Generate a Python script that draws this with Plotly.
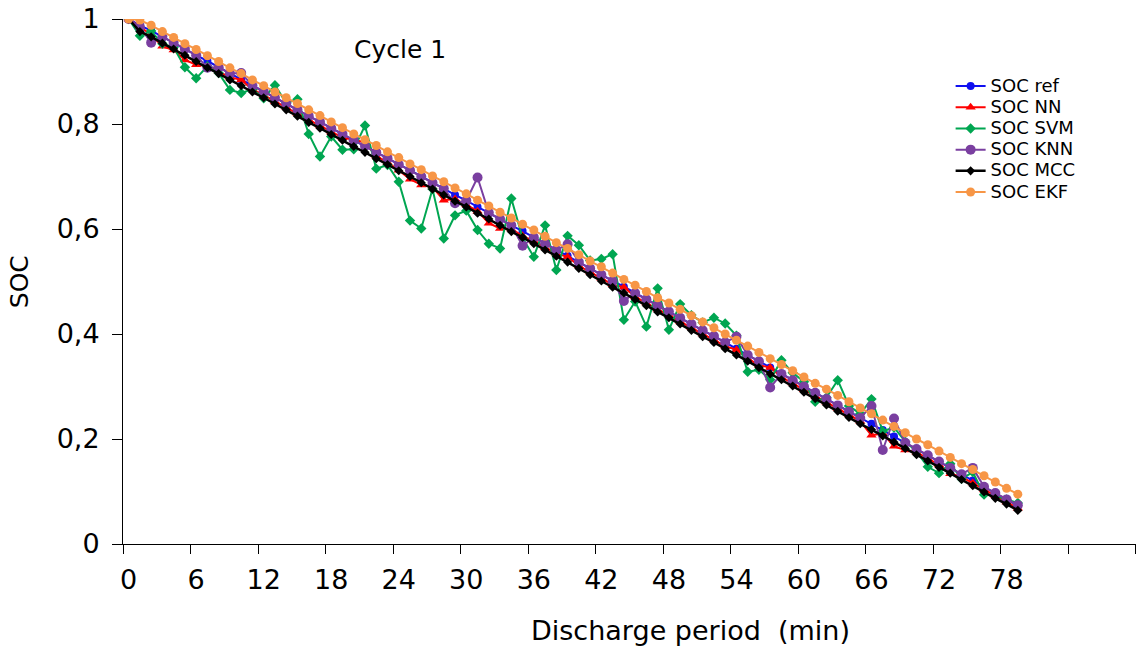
import plotly.graph_objects as go

minutes = list(range(80))

soc_ref = [1.000, 0.988, 0.978, 0.966, 0.955, 0.943, 0.931, 0.920, 0.908, 0.896,
           0.885, 0.873, 0.862, 0.850, 0.839, 0.827, 0.815, 0.804, 0.792, 0.781,
           0.769, 0.758, 0.746, 0.735, 0.723, 0.712, 0.700, 0.688, 0.677, 0.665,
           0.654, 0.642, 0.631, 0.619, 0.607, 0.596, 0.584, 0.572, 0.560, 0.549,
           0.537, 0.525, 0.513, 0.501, 0.490, 0.478, 0.466, 0.454, 0.443, 0.431,
           0.419, 0.407, 0.396, 0.384, 0.372, 0.360, 0.348, 0.336, 0.324, 0.312,
           0.300, 0.288, 0.276, 0.264, 0.252, 0.240, 0.229, 0.217, 0.205, 0.193,
           0.181, 0.169, 0.157, 0.145, 0.133, 0.121, 0.109, 0.097, 0.085, 0.073]

soc_nn = [1.000, 0.985, 0.970, 0.948, 0.941, 0.922, 0.913, 0.911, 0.900, 0.889,
          0.884, 0.866, 0.855, 0.843, 0.832, 0.820, 0.808, 0.797, 0.785, 0.774,
          0.770, 0.765, 0.739, 0.727, 0.712, 0.695, 0.684, 0.680, 0.655, 0.657,
          0.646, 0.634, 0.611, 0.601, 0.600, 0.587, 0.577, 0.565, 0.553, 0.547,
          0.530, 0.518, 0.506, 0.494, 0.489, 0.471, 0.459, 0.447, 0.436, 0.424,
          0.412, 0.400, 0.389, 0.377, 0.370, 0.353, 0.341, 0.336, 0.318, 0.306,
          0.294, 0.282, 0.270, 0.258, 0.246, 0.234, 0.207, 0.211, 0.186, 0.179,
          0.175, 0.163, 0.151, 0.134, 0.128, 0.116, 0.104, 0.092, 0.080, 0.068]

soc_svm = [1.000, 0.968, 0.977, 0.953, 0.946, 0.908, 0.887, 0.910, 0.897, 0.865,
           0.859, 0.866, 0.849, 0.874, 0.840, 0.847, 0.781, 0.738, 0.776, 0.751,
           0.752, 0.797, 0.715, 0.722, 0.690, 0.616, 0.601, 0.676, 0.582, 0.626,
           0.635, 0.598, 0.572, 0.563, 0.658, 0.583, 0.547, 0.607, 0.522, 0.587,
           0.569, 0.540, 0.543, 0.552, 0.427, 0.462, 0.414, 0.487, 0.408, 0.457,
           0.436, 0.422, 0.431, 0.420, 0.397, 0.328, 0.332, 0.313, 0.350, 0.326,
           0.309, 0.271, 0.279, 0.312, 0.263, 0.248, 0.276, 0.215, 0.222, 0.195,
           0.176, 0.147, 0.135, 0.153, 0.124, 0.137, 0.094, 0.092, 0.085, 0.078]

soc_knn = [1.000, 0.985, 0.955, 0.966, 0.955, 0.943, 0.931, 0.907, 0.908, 0.896,
           0.897, 0.873, 0.862, 0.850, 0.839, 0.827, 0.815, 0.804, 0.792, 0.781,
           0.769, 0.758, 0.746, 0.735, 0.723, 0.712, 0.700, 0.688, 0.677, 0.649,
           0.654, 0.698, 0.631, 0.619, 0.607, 0.568, 0.584, 0.572, 0.560, 0.571,
           0.537, 0.525, 0.513, 0.501, 0.463, 0.478, 0.466, 0.454, 0.443, 0.431,
           0.419, 0.407, 0.396, 0.384, 0.395, 0.360, 0.348, 0.298, 0.324, 0.312,
           0.300, 0.288, 0.276, 0.264, 0.252, 0.240, 0.263, 0.179, 0.239, 0.193,
           0.181, 0.169, 0.157, 0.145, 0.133, 0.145, 0.109, 0.097, 0.085, 0.074]

soc_mcc = [1.000, 0.976, 0.966, 0.954, 0.943, 0.931, 0.919, 0.907, 0.896, 0.884,
           0.873, 0.861, 0.850, 0.838, 0.827, 0.815, 0.803, 0.792, 0.780, 0.769,
           0.757, 0.746, 0.734, 0.723, 0.711, 0.700, 0.688, 0.676, 0.665, 0.653,
           0.642, 0.630, 0.619, 0.607, 0.595, 0.584, 0.572, 0.560, 0.548, 0.537,
           0.525, 0.513, 0.501, 0.489, 0.478, 0.466, 0.454, 0.442, 0.431, 0.419,
           0.407, 0.395, 0.384, 0.372, 0.360, 0.348, 0.336, 0.324, 0.313, 0.301,
           0.289, 0.277, 0.265, 0.253, 0.241, 0.229, 0.218, 0.206, 0.194, 0.182,
           0.170, 0.158, 0.146, 0.135, 0.123, 0.111, 0.099, 0.087, 0.076, 0.064]

soc_ekf = [1.000, 0.998, 0.988, 0.976, 0.965, 0.953, 0.942, 0.930, 0.919, 0.907,
           0.896, 0.884, 0.873, 0.861, 0.850, 0.839, 0.827, 0.816, 0.804, 0.793,
           0.781, 0.770, 0.759, 0.747, 0.736, 0.724, 0.713, 0.701, 0.690, 0.678,
           0.667, 0.655, 0.644, 0.632, 0.621, 0.609, 0.598, 0.586, 0.574, 0.563,
           0.551, 0.539, 0.528, 0.516, 0.504, 0.493, 0.481, 0.469, 0.459, 0.447,
           0.435, 0.423, 0.412, 0.400, 0.388, 0.377, 0.365, 0.353, 0.342, 0.330,
           0.318, 0.306, 0.295, 0.283, 0.271, 0.259, 0.248, 0.236, 0.224, 0.212,
           0.200, 0.189, 0.177, 0.165, 0.153, 0.142, 0.130, 0.118, 0.106, 0.095]

x_tick_vals = [0, 6, 12, 18, 24, 30, 36, 42, 48, 54, 60, 66, 72, 78]
x_tick_text = ["0", "6", "12", "18", "24", "30", "36", "42", "48", "54", "60", "66", "72", "78"]
x_boundaries = [-0.5, 5.5, 11.5, 17.5, 23.5, 29.5, 35.5, 41.5, 47.5, 53.5, 59.5,
                65.5, 71.5, 77.5, 83.5, 89.45]
y_tick_vals = [0, 0.2, 0.4, 0.6, 0.8, 1]
y_tick_text = ["0", "0,2", "0,4", "0,6", "0,8", "1"]

FONT = "DejaVu Sans"

series = [
    ("SOC ref", soc_ref, "#1010F0", "circle", 8, 2),
    ("SOC NN", soc_nn, "#FF0000", "triangle-up", 9, 2),
    ("SOC SVM", soc_svm, "#00A651", "diamond", 8, 2),
    ("SOC KNN", soc_knn, "#7A3FA0", "circle", 10, 2),
    ("SOC MCC", soc_mcc, "#000000", "diamond", 7, 2.5),
    ("SOC EKF", soc_ekf, "#F79646", "circle", 9, 2),
]

fig = go.Figure()
for name, vals, color, sym, msize, lw in series:
    fig.add_trace(go.Scatter(
        x=minutes, y=vals, name='<span style="font-size:18px">%s</span>' % name,
        mode="lines+markers",
        line=dict(color=color, width=lw),
        marker=dict(symbol=sym, size=msize, color=color),
    ))

fig.update_layout(
    width=1136, height=648,
    margin=dict(l=123, r=0, t=19, b=104),
    paper_bgcolor="white", plot_bgcolor="white",
    font=dict(family=FONT, color="black"),
    showlegend=True,
    legend=dict(x=0.817, y=0.902, xanchor="left", yanchor="top",
                font=dict(family=FONT, size=14, color="black"),
                bgcolor="rgba(0,0,0,0)", tracegroupgap=0, itemwidth=30),
    xaxis=dict(range=[-0.5, 89.5], tickmode="array", tickvals=x_tick_vals,
               ticktext=x_tick_text, ticks="", showgrid=False, zeroline=False,
               showline=True, linecolor="black", linewidth=1,
               ticklabelstandoff=12,
               tickfont=dict(family=FONT, size=27, color="black"),
               minor=dict(tickmode="array", tickvals=x_boundaries, ticks="outside",
                          ticklen=9, tickcolor="black", tickwidth=1, showgrid=False)),
    yaxis=dict(range=[0, 1], tickmode="array", tickvals=y_tick_vals,
               ticktext=y_tick_text, ticks="outside", ticklen=10, tickcolor="black",
               showgrid=False, zeroline=False, showline=True, linecolor="black",
               linewidth=1, ticklabelstandoff=7,
               tickfont=dict(family=FONT, size=27, color="black")),
    annotations=[
        dict(text="Discharge period  (min)", xref="paper", yref="paper",
             x=0.56, y=-0.165, xanchor="center", yanchor="middle", showarrow=False,
             font=dict(family=FONT, size=27, color="black")),
        dict(text="SOC", xref="paper", yref="paper", x=-0.102, y=0.5,
             xanchor="center", yanchor="middle", textangle=-90, showarrow=False,
             font=dict(family=FONT, size=25, color="black")),
        dict(text="Cycle 1", xref="paper", yref="paper", x=0.273, y=0.941,
             xanchor="center", yanchor="middle", showarrow=False,
             font=dict(family=FONT, size=25, color="black")),
    ],
)

fig.write_html("out.html")
